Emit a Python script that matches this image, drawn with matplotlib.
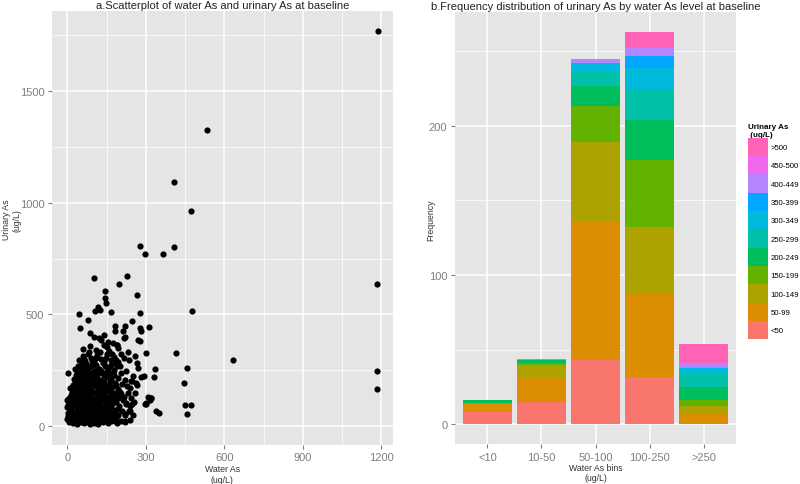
import matplotlib.pyplot as plt
from matplotlib.patches import Patch

plt.rcParams['font.family'] = ['Liberation Sans', 'DejaVu Sans']

# ---- scatter data (water As vs urinary As, ug/L) ----
# far outliers
out_water = [1186, 1185, 1185, 1185, 533, 407, 474, 276, 295, 367, 407, 633, 478]
out_urine = [1769, 635, 249, 166, 1325, 1093, 964, 806, 771, 771, 800, 298, 515]

# sparse points above / right of the main cluster
mid_water = [102, 229, 199, 145, 143, 146, 266, 117, 107, 123, 43, 79, 48, 85, 168,
             279, 248, 181, 181, 219, 213, 278, 283, 312, 215, 278, 122, 155, 139, 191,
             302, 232, 416, 457, 445, 448, 474, 457, 334, 331, 321, 299, 340, 349, 2,
             187, 200, 225, 234, 257, 267, 270, 251, 283, 293, 264, 247, 238, 206, 193,
             225, 247, 238, 219, 222, 191, 181, 302, 321, 315, 295, 308, 271, 222, 190]
mid_urine = [662, 670, 636, 607, 574, 552, 589, 533, 515, 522, 500, 477, 439, 415, 512,
             506, 470, 448, 428, 448, 425, 440, 425, 444, 395, 383, 395, 376, 365, 365,
             327, 331, 327, 261, 192, 94, 94, 56, 258, 222, 127, 100, 67, 58, 237,
             298, 268, 246, 298, 313, 283, 261, 224, 219, 224, 194, 201, 171, 145, 127,
             104, 97, 67, 52, 22, 52, 22, 104, 127, 115, 97, 130, 385, 398, 363]

# dense cluster at low water As
core_water = [5, 12, 20, 28, 35, 42, 50, 58, 65, 72, 80, 88, 95, 102, 110, 118, 125, 135, 145, 155,
              165, 178, 190, 205, 220, 238, 0, 3,
              2, 8, 15, 22, 30, 38, 45, 52, 60, 68, 75, 82, 90, 98, 105, 112, 120, 128, 136, 144,
              152, 160, 170, 182, 195, 208, 222, 236, 250, 0,
              3, 10, 18, 26, 34, 40, 48, 55, 62, 70, 78, 85, 92, 100, 108, 115, 122, 130, 138, 146,
              154, 162, 172, 185, 198, 212, 225, 240, 255, 0,
              5, 14, 22, 30, 38, 46, 54, 60, 68, 76, 84, 92, 100, 108, 116, 124, 132, 140, 148, 156,
              165, 175, 188, 200, 215, 230, 245, 260,
              10, 20, 28, 36, 44, 52, 60, 68, 76, 84, 92, 100, 108, 116, 124, 132, 140, 150, 160, 170,
              182, 195, 210, 228, 242, 265,
              25, 33, 42, 50, 58, 66, 74, 82, 90, 98, 106, 114, 122, 130, 138, 148, 158, 168, 180, 195,
              205, 220,
              30, 40, 50, 60, 70, 80, 90, 100, 110, 120, 130, 142, 155, 168, 180, 190,
              45, 58, 68, 78, 90, 102, 115, 128, 140, 152, 165, 178, 192, 205, 218,
              60, 85, 110, 130, 150, 175, 100, 140, 160, 195]
core_urine = [20, 35, 15, 30, 10, 25, 18, 32, 12, 28, 20, 8, 30, 15, 25, 10, 35, 18, 28, 12,
              22, 30, 15, 25, 20, 28, 30, 45,
              60, 75, 50, 65, 45, 70, 55, 78, 48, 62, 72, 50, 66, 45, 70, 58, 75, 48, 64, 52,
              70, 45, 60, 72, 50, 66, 55, 68, 48, 85,
              95, 110, 88, 102, 118, 90, 105, 85, 115, 98, 110, 88, 120, 100, 85, 112, 95, 118, 90, 105,
              85, 115, 98, 108, 90, 115, 100, 92, 110, 115,
              125, 140, 128, 155, 135, 150, 125, 145, 130, 158, 138, 148, 128, 155, 135, 150, 125, 142, 158, 130,
              148, 125, 140, 155, 132, 148, 125, 150,
              170, 185, 165, 195, 172, 188, 162, 198, 175, 190, 168, 195, 178, 162, 188, 172, 198, 165, 185, 175,
              195, 168, 190, 178, 200, 185,
              210, 230, 215, 238, 205, 225, 212, 240, 220, 205, 232, 215, 240, 208, 228, 218, 235, 210, 228, 215,
              238, 205,
              255, 270, 248, 265, 278, 252, 268, 245, 275, 258, 248, 270, 255, 275, 250, 268,
              295, 315, 290, 325, 305, 288, 318, 300, 285, 322, 295, 310, 288, 325, 305,
              345, 360, 340, 385, 355, 370, 400, 410, 335, 352]

# more points filling the gaps of the cluster
fill_water = [15, 32, 46, 62, 77, 92, 106, 122, 140, 160, 185,
              6, 26, 42, 56, 72, 86, 102, 116, 132, 150, 175,
              14, 30, 44, 58, 74, 88, 104, 118, 134, 150, 168, 192,
              8, 24, 36, 52, 66, 80, 96, 112, 126, 142, 160, 180,
              18, 34, 48, 64, 80, 96, 112, 128, 144, 162, 178,
              30, 46, 62, 78, 94, 110, 126, 144, 164, 186,
              36, 54, 70, 86, 102, 118, 134, 152, 175,
              55, 75, 95, 115, 135, 160, 185,
              62, 84, 108, 124, 146, 170]
fill_urine = [25, 18, 38, 22, 40, 18, 38, 22, 40, 30, 38,
              52, 58, 40, 60, 42, 58, 52, 40, 60, 42, 50,
              80, 92, 80, 98, 82, 100, 80, 98, 82, 96, 82, 78,
              120, 112, 126, 112, 122, 130, 112, 128, 108, 125, 110, 128,
              155, 165, 160, 150, 166, 155, 145, 165, 155, 160, 150,
              200, 200, 182, 200, 182, 200, 182, 185, 200, 182,
              245, 222, 245, 228, 222, 250, 240, 245, 240,
              280, 262, 285, 262, 282, 265, 282,
              300, 332, 305, 330, 305, 325]

# ---- bar data: counts of urinary As class within each water As bin ----
water_bins = ["<10", "10-50", "50-100", "100-250", ">250"]
urine_classes = ["<50", "50-99", "100-149", "150-199", "200-249", "250-299",
                 "300-349", "350-399", "400-449", "450-500", ">500"]
counts = {
    "<10":     [8, 6, 0, 0, 2, 0, 0, 0, 0, 0, 0],
    "10-50":   [15, 16, 9, 1, 2, 0, 0, 0, 0, 1, 0],
    "50-100":  [43, 93, 53, 24, 14, 9, 6, 0, 3, 0, 0],
    "100-250": [32, 55, 45, 45, 27, 20, 15, 8, 5, 0, 11],
    ">250":    [0, 7, 5, 4, 9, 9, 4, 0, 3, 0, 13],
}
class_colors = ["#F8766D", "#DB8E00", "#AEA200", "#64B200", "#00BD5C", "#00C1A7",
                "#00BADE", "#00A6FF", "#B385FF", "#EF67EB", "#FF63B6"]

W, H = 800, 485
fig = plt.figure(figsize=(8, 4.85), dpi=100)
fig.patch.set_facecolor("white")


def style_axes(ax):
    ax.set_facecolor("#E5E5E5")
    for s in ax.spines.values():
        s.set_visible(False)
    ax.grid(which="major", color="white", linewidth=1.1)
    ax.grid(which="minor", color="white", linewidth=0.5)
    ax.set_axisbelow(True)
    ax.tick_params(which="major", colors="#7F7F7F", labelsize=8, length=3, width=0.8, pad=2.5)
    ax.tick_params(which="minor", length=0)


# scatter panel
ax1 = fig.add_axes([52 / W, 1 - 445.7 / H, 340.7 / W, 433.7 / H])
style_axes(ax1)
ax1.scatter(out_water + mid_water + core_water + fill_water,
            out_urine + mid_urine + core_urine + fill_urine,
            s=20, color="black", linewidths=0, zorder=3)
ax1.set_xlim(-59, 1244)
ax1.set_ylim(-83, 1858)
ax1.set_xticks([0, 300, 600, 900, 1200])
ax1.set_xticks([150, 450, 750, 1050], minor=True)
ax1.set_yticks([0, 500, 1000, 1500])
ax1.set_yticks([250, 750, 1250, 1750], minor=True)
ax1.set_xlabel("Water As\n(ug/L)", fontsize=6.3, color="#333333", linespacing=1.25)
ax1.xaxis.set_label_coords(0.5, -0.045)
ax1.xaxis.label.set_va("top")
ax1.set_ylabel("Urinary As\n(ug/L)", fontsize=6.3, color="#333333", linespacing=1.2)
ax1.yaxis.set_label_coords(-0.09, 0.52)
ax1.set_title("a.Scatterplot of water As and urinary As at baseline", fontsize=8,
              color="#222222", pad=2)

# stacked bar panel
ax2 = fig.add_axes([455 / W, 1 - 445 / H, 281 / W, 432 / H])
style_axes(ax2)
xpos = list(range(len(water_bins)))
bottoms = [0] * len(water_bins)
for i, cls in enumerate(urine_classes):
    vals = [counts[b][i] for b in water_bins]
    ax2.bar(xpos, vals, bottom=bottoms, width=0.9, color=class_colors[i], linewidth=0, zorder=3)
    bottoms = [bo + v for bo, v in zip(bottoms, vals)]
ax2.set_xlim(-0.6, 4.6)
ax2.set_ylim(-13.2, 276.3)
ax2.set_xticks(xpos)
ax2.set_xticklabels(water_bins)
ax2.set_yticks([0, 100, 200])
ax2.set_yticks([50, 150, 250], minor=True)
ax2.set_xlabel("Water As bins\n(ug/L)", fontsize=6.3, color="#333333", linespacing=1.25)
ax2.xaxis.set_label_coords(0.5, -0.043)
ax2.xaxis.label.set_va("top")
ax2.set_ylabel("Frequency", fontsize=6.3, color="#333333")
ax2.yaxis.set_label_coords(-0.072, 0.52)
ax2.set_title("b.Frequency distribution of urinary As by water As level at baseline",
              fontsize=8, color="#222222", pad=2)

handles = [Patch(facecolor=c, edgecolor="none", label=l)
           for c, l in zip(class_colors, urine_classes)][::-1]
leg = fig.legend(handles=handles, loc="center left", bbox_to_anchor=(745 / W, 1 - 232 / H),
                 bbox_transform=fig.transFigure, frameon=False, fontsize=5.6,
                 title="Urinary As\n (ug/L)", title_fontproperties={"weight": "bold", "size": 5.8},
                 handlelength=2.5, handleheight=3.25, labelspacing=0, handletextpad=0.4,
                 borderaxespad=0, alignment="left")

fig.savefig("out.png", dpi=100)
